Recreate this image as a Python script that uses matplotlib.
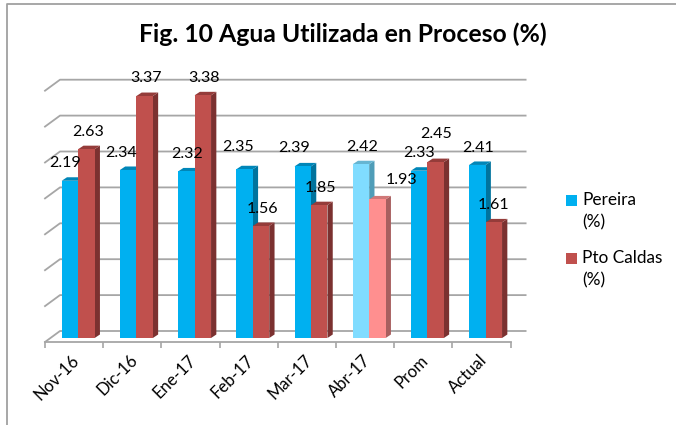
import matplotlib
matplotlib.use("Agg")
import matplotlib.pyplot as plt
from matplotlib.lines import Line2D
from matplotlib.patches import Polygon, Rectangle

plt.rcParams['font.family'] = ['Lato', 'DejaVu Sans']

categories = ['Nov-16', 'Dic-16', 'Ene-17', 'Feb-17', 'Mar-17', 'Abr-17', 'Prom', 'Actual']
pereira = [2.19, 2.34, 2.32, 2.35, 2.39, 2.42, 2.33, 2.41]
pto_caldas = [2.63, 3.37, 3.38, 1.56, 1.85, 1.93, 2.45, 1.61]

# label offsets from the top centre of each bar, pixels
pereira_off = [(-5, 18), (-7, 17), (1, 17), (-7, 22), (-9, 18), (1, 17), (0, 18), (1, 17)]
caldas_off = [(2, 17), (1, 18), (1, 17), (1, 17), (1, 17), (24, 19), (0, 28), (0, 17)]

FIG_W, FIG_H = 676, 425
PX_X = 58.2
PX_Y = 71.8
WALL_DX, WALL_DY = 15 / PX_X, 11 / PX_Y
BAR_DX, BAR_DY = 5.3 / PX_X, 3.5 / PX_Y
BASE = 4 / PX_Y
BAR_W = 0.283
BAR_X = 0.287
GRID = '#a6a6a6'

fig = plt.figure(figsize=(FIG_W / 100, FIG_H / 100), dpi=100)
ax = fig.add_axes([45 / FIG_W, (FIG_H - 342) / FIG_H, 8 * PX_X / FIG_W, 3.5 * PX_Y / FIG_H])
ax.set_xlim(0, 8)
ax.set_ylim(0, 3.5)

# chart border, only top and left are in the picture
fig.add_artist(Line2D([7 / FIG_W, 7 / FIG_W, 1], [0, 1 - 4 / FIG_H, 1 - 4 / FIG_H],
                      transform=fig.transFigure, color='#a0a0a0', lw=1.3))

# back wall gridlines and floor lines
for k in range(8):
    v = k * 0.5
    ax.plot([0, WALL_DX, 8 + WALL_DX], [v, v + WALL_DY, v + WALL_DY], color=GRID, lw=1.3,
            clip_on=False, zorder=1)


def draw_bar(x, v, face, side, top):
    ax.add_patch(Rectangle((x, BASE), BAR_W, v, facecolor=face, edgecolor='none', zorder=3, clip_on=False))
    ax.add_patch(Polygon([(x + BAR_W, BASE), (x + BAR_W + BAR_DX, BASE + BAR_DY),
                          (x + BAR_W + BAR_DX, BASE + v + BAR_DY), (x + BAR_W, BASE + v)],
                         facecolor=side, edgecolor='none', zorder=2, clip_on=False))
    ax.add_patch(Polygon([(x, BASE + v), (x + BAR_DX, BASE + v + BAR_DY),
                          (x + BAR_W + BAR_DX, BASE + v + BAR_DY), (x + BAR_W, BASE + v)],
                         facecolor=top, edgecolor='none', zorder=2, clip_on=False))


for i, cat in enumerate(categories):
    light = cat == 'Abr-17'
    x1 = i + BAR_X
    x2 = x1 + BAR_W
    if light:
        draw_bar(x1, pereira[i], '#80dcff', '#4f9db8', '#66b5d2')
        draw_bar(x2, pto_caldas[i], '#ff8f8f', '#a85f5f', '#d07878')
    else:
        draw_bar(x1, pereira[i], '#00b0f0', '#00739d', '#0086b8')
        draw_bar(x2, pto_caldas[i], '#c0504d', '#7b3130', '#953c3a')
    ax.annotate(f'{pereira[i]:.2f}', (x1 + BAR_W / 2, BASE + pereira[i]), xytext=pereira_off[i],
                textcoords='offset pixels', ha='center', va='center', fontsize=11.5, color='black', zorder=5)
    ax.annotate(f'{pto_caldas[i]:.2f}', (x2 + BAR_W / 2, BASE + pto_caldas[i]), xytext=caldas_off[i],
                textcoords='offset pixels', ha='center', va='center', fontsize=11.5, color='black', zorder=5)

# front axis
for s in ['top', 'left', 'right']:
    ax.spines[s].set_visible(False)
ax.spines['bottom'].set_color(GRID)
ax.spines['bottom'].set_linewidth(1.3)
ax.set_yticks([])
ax.set_xticks(range(9))
ax.set_xticklabels([])
ax.tick_params(axis='x', length=4, color=GRID, width=1.2)
ax.patch.set_alpha(0)

for i, cat in enumerate(categories):
    ax.annotate(cat, (i + 0.5, 0), xytext=(-3, -10), textcoords='offset pixels', rotation=45,
                rotation_mode='anchor', ha='right', va='top', fontsize=12, color='black')

fig.text(343 / FIG_W, 1 - 34 / FIG_H, 'Fig. 10 Agua Utilizada en Proceso (%)', ha='center', va='center',
         fontsize=17.8, fontweight='bold', color='black')

# legend
legend_rows = [('Pereira\n(%)', '#00b0f0', 195), ('Pto Caldas\n(%)', '#c0504d', 253)]
for label, color, top in legend_rows:
    fig.add_artist(Rectangle((566 / FIG_W, 1 - (top + 11) / FIG_H), 11 / FIG_W, 11 / FIG_H,
                             transform=fig.transFigure, facecolor=color, edgecolor='none'))
    fig.text(582 / FIG_W, 1 - (top - 3) / FIG_H, label, ha='left', va='top', fontsize=12.4,
             linespacing=1.5, color='black')

fig.savefig('out.png', dpi=100)
